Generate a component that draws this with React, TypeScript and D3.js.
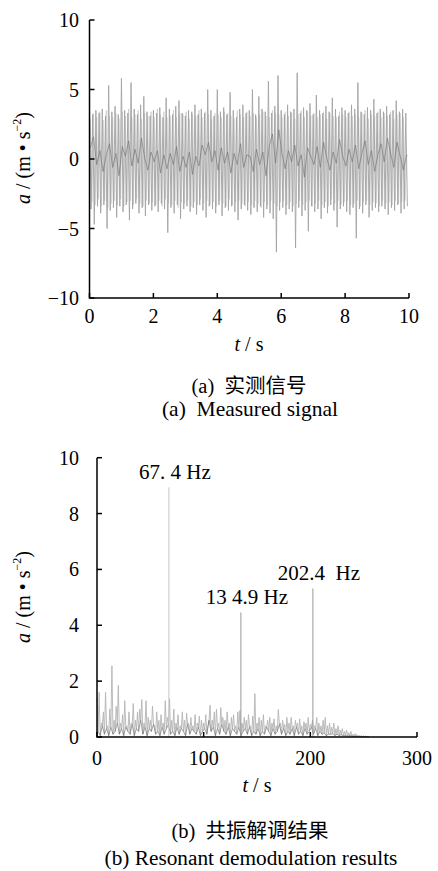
import * as d3 from 'd3';

// measured signal, sampled every 0.1 s: positive swings, negative swings, low-frequency trace
const sigUpper = [
  3.4, 3.2, 3.5, 3.3, 3.6, 3.1, 5.3, 3.4, 3.8, 3.2,
  5.8, 3.5, 3.3, 5.5, 3.6, 3.2, 3.9, 4.5, 3.4, 3.1,
  3.5, 3.3, 3.7, 3.0, 4.4, 3.6, 3.2, 3.8, 4.2, 3.3,
  3.1, 3.5, 3.4, 3.9, 3.2, 3.6, 3.3, 5.0, 3.5, 3.1,
  5.0, 3.4, 3.7, 3.2, 4.8, 3.5, 3.0, 3.6, 3.9, 3.3,
  3.5, 5.0, 3.2, 4.5, 3.6, 3.4, 5.6, 3.3, 3.8, 6.0,
  3.5, 3.2, 3.9, 3.4, 3.6, 6.2, 3.3, 3.7, 3.5, 4.0,
  3.2, 4.6, 3.5, 3.3, 3.8, 3.4, 4.4, 3.6, 3.1, 3.7,
  3.5, 3.3, 3.9, 3.6, 5.5, 3.4, 3.2, 3.7, 3.5, 4.3,
  3.3, 3.6, 3.4, 3.8, 3.2, 3.5, 4.2, 3.4, 3.6, 3.3
];
const sigLower = [
  -3.6, -4.7, -3.4, -3.9, -3.3, -5.0, -3.7, -3.5, -4.2, -3.4,
  -3.8, -3.3, -4.4, -3.6, -3.2, -3.9, -3.5, -4.1, -3.3, -3.7,
  -3.4, -3.8, -3.2, -3.6, -5.3, -3.5, -3.9, -3.3, -4.3, -3.6,
  -3.4, -3.8, -3.5, -4.0, -3.3, -3.7, -4.2, -3.4, -3.6, -3.9,
  -3.3, -4.1, -3.5, -3.7, -3.4, -3.8, -4.4, -3.6, -3.3, -3.7,
  -4.0, -3.5, -3.8, -3.4, -4.2, -3.6, -3.9, -4.3, -6.7, -3.7,
  -3.5, -4.0, -3.6, -3.8, -6.4, -3.5, -4.1, -3.7, -5.2, -3.4,
  -3.8, -3.6, -4.3, -3.5, -3.9, -3.3, -3.7, -4.9, -3.6, -3.4,
  -3.8, -4.0, -3.5, -5.7, -3.6, -3.9, -3.3, -4.2, -3.7, -3.5,
  -3.8, -3.4, -3.6, -4.0, -3.5, -3.7, -3.3, -3.9, -3.6, -3.4
];
// lighter in-between swings (shifted half a step)
const sigUpper2 = [
  2.9, 3.3, 3.0, 3.4, 2.8, 3.5, 3.1, 3.0, 3.3, 2.9,
  3.4, 3.1, 3.6, 3.0, 3.2, 3.5, 2.9, 3.3, 3.1, 3.4,
  3.0, 3.6, 3.2, 3.4, 3.0, 3.1, 3.5, 3.0, 3.3, 3.2,
  3.4, 2.9, 3.2, 3.1, 3.5, 3.0, 3.4, 3.2, 2.9, 3.3,
  3.2, 3.0, 3.4, 3.3, 3.1, 2.9, 3.5, 3.2, 3.0, 3.4,
  3.1, 3.3, 3.0, 3.2, 3.4, 3.1, 3.0, 3.5, 3.3, 3.2,
  3.0, 3.4, 3.1, 3.3, 2.9, 3.2, 3.5, 3.0, 3.4, 3.1,
  3.3, 3.0, 3.2, 3.4, 2.9, 3.3, 3.1, 3.0, 3.4, 3.2,
  3.0, 3.4, 3.1, 3.2, 3.0, 3.3, 3.5, 2.9, 3.2, 3.1,
  3.4, 3.0, 3.3, 3.1, 3.4, 2.9, 3.2, 3.3, 3.0, 0.3
];
const sigLower2 = [
  -3.1, -3.3, -2.9, -3.4, -3.0, -3.5, -3.2, -3.0, -3.3, -2.9,
  -3.4, -3.1, -3.0, -3.3, -2.9, -3.2, -3.4, -3.0, -3.2, -3.1,
  -3.3, -3.0, -3.4, -2.9, -3.2, -3.3, -3.0, -3.5, -3.1, -3.2,
  -3.0, -3.4, -3.1, -3.3, -2.9, -3.2, -3.0, -3.3, -3.1, -3.4,
  -3.0, -3.2, -3.4, -2.9, -3.3, -3.1, -3.0, -3.2, -3.4, -3.1,
  -3.3, -3.0, -3.2, -3.5, -3.1, -3.3, -3.0, -3.2, -3.4, -3.1,
  -3.0, -3.3, -3.1, -3.4, -3.2, -3.0, -3.3, -3.1, -3.0, -3.4,
  -3.2, -3.0, -3.3, -3.1, -3.4, -2.9, -3.2, -3.0, -3.3, -3.1,
  -3.0, -3.3, -3.2, -3.0, -3.4, -3.1, -3.0, -3.3, -3.1, -3.2,
  -3.4, -3.0, -3.2, -3.1, -3.3, -3.0, -3.2, -3.1, -3.0, 0.2
];
const sigMid = [
  0.8, 1.6, -0.4, 0.6, -0.9, 0.3, 1.1, -0.6, 0.4, -1.2,
  0.9, 0.2, 1.3, -0.5, 0.7, -0.3, 1.5, 0.1, -0.8, 0.5,
  -0.2, 0.6, -1.0, 0.3, -0.7, 0.4, -0.4, 0.9, -0.9, 0.2,
  -0.6, 0.5, -1.1, 0.2, -0.5, 1.0, 0.3, 1.2, -0.2, 0.6,
  -0.8, 0.8, -0.3, 0.5, -1.0, 0.4, -0.4, 1.1, -0.6, 0.3,
  0.2, -0.9, 0.7, -0.4, 0.5, -1.2, 0.9, 1.8, -0.3, 2.1,
  0.4, -0.7, 0.6, -0.2, 1.0, -0.5, 0.3, -1.3, 0.8, 0.2,
  -0.4, 0.9, -0.6, 1.2, 0.1, -0.8, 0.5, -0.3, 1.4, 0.2,
  -0.5, 0.7, -0.2, 1.0, -0.7, 0.4, 1.3, -0.4, 0.6, -0.9,
  0.3, 1.1, -0.2, 1.5, 0.4, -0.6, 1.2, 0.2, -0.8, 0.3
];

// demodulated spectrum, every 2 Hz from 0 to 254
const specLight = [
  1.4, 1.6, 0.5, 0.9, 1.6, 0.4, 1.0, 2.55, 0.6, 1.1,
  1.85, 0.5, 0.8, 1.3, 0.4, 0.9, 0.5, 1.2, 0.6, 0.9,
  1.0, 1.34, 0.5, 1.3, 0.7, 0.6, 1.1, 0.4, 0.9, 0.6,
  0.8, 0.5, 1.3, 0.7, 1.37, 0.6, 1.0, 0.5, 0.8, 0.4,
  0.9, 0.6, 0.85, 0.5, 0.7, 0.4, 0.8, 0.5, 0.75, 0.6,
  0.5, 0.8, 0.4, 1.14, 0.6, 0.9, 1.0, 0.5, 1.05, 0.7,
  0.6, 0.9, 0.5, 0.7, 0.8, 0.4, 0.9, 0.95, 0.5, 0.7,
  0.6, 0.8, 0.4, 0.75, 1.55, 0.5, 0.7, 0.6, 0.8, 0.4,
  0.6, 0.7, 0.5, 0.65, 0.4, 0.98, 0.5, 0.6, 0.45, 0.7,
  0.5, 0.7, 0.4, 0.6, 0.5, 0.65, 0.4, 0.55, 0.5, 0.7,
  0.45, 0.6, 0.4, 0.7, 0.5, 0.4, 0.6, 0.7, 0.4, 0.5,
  0.35, 0.5, 0.3, 0.4, 0.25, 0.3, 0.2, 0.25, 0.15, 0.2,
  0.1, 0.12, 0.08, 0.06, 0.05, 0.04, 0.03, 0.02
];
const specDark = [
  0.2, 0.05, 0.4, 0.1, 0.3, 0.05, 0.35, 0.1, 0.2, 0.5,
  0.1, 0.3, 0.05, 0.35, 0.2, 0.1, 0.45, 0.05, 0.3, 0.2,
  0.6, 0.1, 0.35, 0.05, 0.3, 0.2, 0.45, 0.1, 0.2, 0.05,
  0.35, 0.1, 0.3, 0.45, 0.1, 0.2, 0.05, 0.35, 0.1, 0.3,
  0.2, 0.05, 0.45, 0.1, 0.3, 0.2, 0.1, 0.35, 0.05, 0.2,
  0.3, 0.1, 0.6, 0.2, 0.35, 0.05, 0.3, 0.1, 0.45, 0.2,
  0.1, 0.35, 0.05, 0.3, 0.2, 0.1, 0.35, 0.05, 0.2, 0.3,
  0.1, 0.35, 0.05, 0.2, 0.1, 0.3, 0.05, 0.2, 0.1, 0.35,
  0.2, 0.05, 0.3, 0.1, 0.2, 0.45, 0.1, 0.3, 0.05, 0.2,
  0.1, 0.3, 0.05, 0.35, 0.1, 0.2, 0.05, 0.3, 0.1, 0.2,
  0.35, 0.1, 0.3, 0.05, 0.2, 0.1, 0.15, 0.05, 0.1, 0.1,
  0.12, 0.05, 0.1, 0.05, 0.08, 0.04, 0.06, 0.03, 0.05, 0.03,
  0.02, 0.03, 0.02, 0.02, 0.01, 0.01, 0.01, 0.01
];

const peakFreqs = [67.4, 134.9, 202.4];
const peakAmps = [8.94, 4.46, 5.32];
const peakLabels = ['67.\u00a04 Hz', '13\u00a04.9 Hz', '202.4\u00a0\u00a0Hz'];

const topXTicks = [0, 2, 4, 6, 8, 10];
const topYTicks = [-10, -5, 0, 5, 10];
const botXTicks = [0, 100, 200, 300];
const botYTicks = [0, 2, 4, 6, 8, 10];

const SERIF = '"Liberation Serif"';
const CJK = '"Noto Sans CJK SC"';

const fmt = (d: number) => (d < 0 ? '\u2212' + Math.abs(d) : String(d));

type Lin = d3.ScaleLinear<number, number>;

const Axes = ({ x, y, xTicks, yTicks, xLabelY, yLabelX }: {
  x: Lin; y: Lin; xTicks: number[]; yTicks: number[]; xLabelY: number; yLabelX: number;
}) => {
  const [x0, x1] = x.range();
  const [y0, y1] = y.range();
  return (
    <g>
      <path d={`M${x0},${y1}H${x0}V${y0}H${x1}`} fill="none" stroke="#000" strokeWidth={1.5} />
      {xTicks.map(t => (
        <g key={'x' + t}>
          <line x1={x(t)} x2={x(t)} y1={y0} y2={y0 - 5} stroke="#000" strokeWidth={1.5} />
          <text x={x(t)} y={xLabelY} textAnchor="middle" fontSize={20} style={{ fontFamily: SERIF }}>{fmt(t)}</text>
        </g>
      ))}
      {yTicks.map(t => (
        <g key={'y' + t}>
          <line x1={x0} x2={x0 + 5} y1={y(t)} y2={y(t)} stroke="#000" strokeWidth={1.5} />
          <text x={yLabelX} y={y(t) + 7} textAnchor="end" fontSize={20} style={{ fontFamily: SERIF }}>{fmt(t)}</text>
        </g>
      ))}
    </g>
  );
};

const YTitle = ({ cx, cy }: { cx: number; cy: number }) => (
  <text transform={`translate(${cx},${cy}) rotate(-90)`} textAnchor="middle" fontSize={20} style={{ fontFamily: SERIF }}>
    <tspan fontStyle="italic">a</tspan>
    <tspan>{'\u00a0/\u00a0(m\u00a0\u2022\u00a0s'}</tspan>
    <tspan dy={-9} fontSize={12}>{'\u22122'}</tspan>
    <tspan dy={9}>)</tspan>
  </text>
);

const XTitle = ({ cx, by }: { cx: number; by: number }) => (
  <text x={cx} y={by} textAnchor="middle" fontSize={20} style={{ fontFamily: SERIF }}>
    <tspan fontStyle="italic">t</tspan>
    <tspan>{'\u00a0/\u00a0s'}</tspan>
  </text>
);

const App = () => {
  // (a) measured signal
  const xa = d3.scaleLinear().domain([0, 10]).range([89.5, 409]);
  const ya = d3.scaleLinear().domain([-10, 10]).range([298, 20]);
  const lineA = d3.line<[number, number]>().x(d => xa(d[0])).y(d => ya(d[1]));

  const zig: [number, number][] = [];
  sigUpper.forEach((v, i) => {
    zig.push([i * 0.1, v]);
    zig.push([i * 0.1 + 0.05, sigLower[i]]);
  });
  const zig2: [number, number][] = [];
  sigUpper2.forEach((v, i) => {
    zig2.push([i * 0.1 + 0.025, v]);
    zig2.push([i * 0.1 + 0.075, sigLower2[i]]);
  });
  const mid: [number, number][] = sigMid.map((v, i) => [i * 0.1 + 0.025, v]);

  // (b) resonant demodulation
  const xb = d3.scaleLinear().domain([0, 300]).range([97, 417]);
  const yb = d3.scaleLinear().domain([0, 10]).range([737, 457.7]);
  const lineB = d3.line<[number, number]>().x(d => xb(d[0])).y(d => yb(d[1]));
  const spec: [number, number][] = [];
  specLight.forEach((v, i) => {
    spec.push([i * 2, v]);
    spec.push([i * 2 + 1, specDark[i]]);
  });
  const dark: [number, number][] = specDark.map((v, i) => [i * 2 + 1, v]);

  return (
    <svg width={438} height={871} style={{ position: 'absolute', left: 0, top: 0, background: '#fff' }}>
      <path d={lineA(zig2) || ''} fill="none" stroke="#cdcdcd" strokeWidth={0.8} />
      <path d={lineA(zig) || ''} fill="none" stroke="#a4a4a4" strokeWidth={0.9} />
      <path d={lineA(mid) || ''} fill="none" stroke="#6e6e6e" strokeWidth={0.6} />
      <Axes x={xa} y={ya} xTicks={topXTicks} yTicks={topYTicks} xLabelY={323} yLabelX={79} />
      <XTitle cx={249} by={351} />
      <YTitle cx={30} cy={158} />
      <text x={249} y={393} textAnchor="middle" fontSize={20.5}>
        <tspan style={{ fontFamily: SERIF }}>{'(a)\u00a0\u00a0'}</tspan>
        <tspan style={{ fontFamily: CJK }}>实测信号</tspan>
      </text>
      <text x={250} y={416} textAnchor="middle" fontSize={21.5} style={{ fontFamily: SERIF }}>
        {'(a)\u00a0\u00a0Measured signal'}
      </text>

      <path d={lineB(spec) || ''} fill="none" stroke="#b4b4b4" strokeWidth={0.9} />
      <path d={lineB(dark) || ''} fill="none" stroke="#666" strokeWidth={0.6} />
      {peakFreqs.map((f, i) => (
        <g key={f}>
          <line x1={xb(f)} x2={xb(f)} y1={yb(0)} y2={yb(peakAmps[i])} stroke={i === 0 ? '#c4c4c4' : '#9a9a9a'} strokeWidth={1} />
          <text x={xb(f) + 6} y={yb(peakAmps[i]) - 8} textAnchor="middle" fontSize={21} style={{ fontFamily: SERIF }}>
            {peakLabels[i]}
          </text>
        </g>
      ))}
      <Axes x={xb} y={yb} xTicks={botXTicks} yTicks={botYTicks} xLabelY={765} yLabelX={79} />
      <XTitle cx={257} by={792} />
      <YTitle cx={30} cy={597} />
      <text x={250} y={838} textAnchor="middle" fontSize={20.5}>
        <tspan style={{ fontFamily: SERIF }}>{'(b)\u00a0\u00a0'}</tspan>
        <tspan style={{ fontFamily: CJK }}>共振解调结果</tspan>
      </text>
      <text x={251} y={865} textAnchor="middle" fontSize={21.3} style={{ fontFamily: SERIF }}>
        (b) Resonant demodulation results
      </text>
    </svg>
  );
};

export default App;
